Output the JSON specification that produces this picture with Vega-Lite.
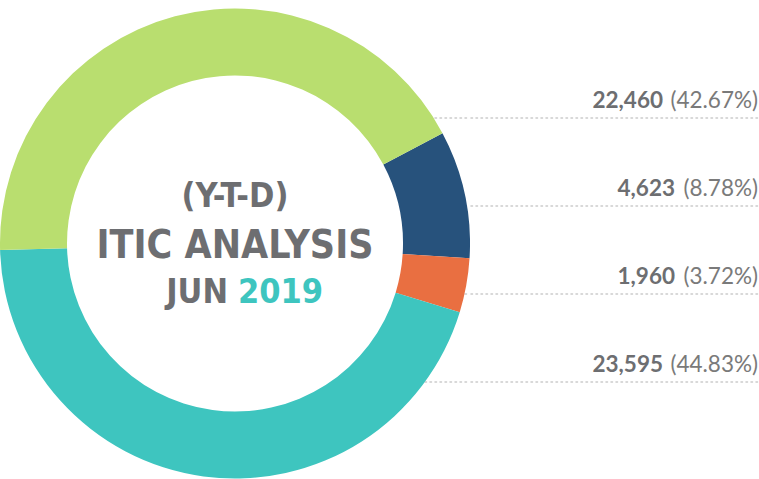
{
  "$schema": "https://vega.github.io/schema/vega-lite/v6.json",
  "padding": 0,
  "background": "white",
  "spacing": 0,
  "config": {"view": {"stroke": null}},
  "data": {"values": [
    {"segment": "Segment 1", "value": 4623, "valueLabel": "4,623", "pctLabel": "(8.78%)", "wide": false},
    {"segment": "Segment 2", "value": 1960, "valueLabel": "1,960", "pctLabel": "(3.72%)", "wide": false},
    {"segment": "Segment 3", "value": 23595, "valueLabel": "23,595", "pctLabel": "(44.83%)", "wide": true},
    {"segment": "Segment 4", "value": 22460, "valueLabel": "22,460", "pctLabel": "(42.67%)", "wide": true}
  ]},
  "resolve": {"scale": {"y": "shared"}},
  "hconcat": [
    {
      "width": 470,
      "height": 479,
      "layer": [
        {
          "mark": {"type": "rule", "stroke": "#cbcbcb", "strokeWidth": 1.5, "strokeDash": [1.5, 3.5], "strokeCap": "round", "clip": true},
          "encoding": {
            "y": {"field": "segment", "type": "nominal", "scale": {"type": "point", "padding": 0, "domain": ["Segment 4", "Segment 1", "Segment 2", "Segment 3"], "range": [118, 382]}, "axis": null},
            "x": {"value": 0},
            "x2": {"value": "width"}
          }
        },
        {
          "data": {"values": [{"part": "mask"}]},
          "mark": {"type": "arc", "radius": 290, "radius2": 233, "theta": 3.1416, "theta2": 6.2832, "fill": "white", "yOffset": 4, "clip": true},
          "encoding": {}
        },
        {
          "data": {"values": [{"part": "hole"}]},
          "mark": {"type": "arc", "radius": 170, "radius2": 0, "theta": 0, "theta2": 6.2832, "fill": "white", "yOffset": 4},
          "encoding": {}
        },
        {
          "mark": {"type": "arc", "radius": 235, "radius2": 168, "yOffset": 4, "clip": true},
          "encoding": {
            "theta": {"field": "value", "type": "quantitative", "stack": true, "scale": {"range": [1.082, 7.3652]}},
            "color": {"field": "segment", "type": "nominal", "sort": ["Segment 1", "Segment 2", "Segment 3", "Segment 4"], "scale": {"domain": ["Segment 1", "Segment 2", "Segment 3", "Segment 4"], "range": ["#27527c", "#e96f41", "#3ec5bf", "#b9de6f"]}, "legend": null},
            "order": {"field": "segment", "sort": "ascending"}
          }
        },
        {
          "data": {"values": [{"line": "(Y-T-D)"}]},
          "mark": {"type": "text", "font": "DejaVu Sans Condensed", "fontWeight": "bold", "fontSize": 34, "fill": "#6d6e71", "align": "center", "baseline": "alphabetic", "dy": -33},
          "encoding": {"text": {"field": "line"}}
        },
        {
          "data": {"values": [{"line": "ITIC ANALYSIS"}]},
          "mark": {"type": "text", "font": "DejaVu Sans Condensed", "fontWeight": "bold", "fontSize": 39, "fill": "#6d6e71", "align": "center", "baseline": "alphabetic", "dy": 18},
          "encoding": {"text": {"field": "line"}}
        },
        {
          "data": {"values": [{"line": "JUN"}]},
          "mark": {"type": "text", "font": "DejaVu Sans Condensed", "fontWeight": "bold", "fontSize": 34, "fill": "#6d6e71", "align": "right", "baseline": "alphabetic", "dy": 63, "dx": -7},
          "encoding": {"text": {"field": "line"}}
        },
        {
          "data": {"values": [{"line": "2019"}]},
          "mark": {"type": "text", "font": "DejaVu Sans Condensed", "fontWeight": "bold", "fontSize": 34, "fill": "#3ec5bf", "align": "left", "baseline": "alphabetic", "dy": 63, "dx": 3},
          "encoding": {"text": {"field": "line"}}
        }
      ]
    },
    {
      "width": 289,
      "height": 479,
      "layer": [
        {
          "mark": {"type": "rule", "stroke": "#cbcbcb", "strokeWidth": 1.5, "strokeDash": [1.5, 3.5], "strokeCap": "round"},
          "encoding": {
            "y": {"field": "segment", "type": "nominal", "axis": null},
            "x": {"value": 0},
            "x2": {"value": "width"}
          }
        },
        {
          "mark": {"type": "text", "font": "Lato", "fontSize": 22.5, "fill": "#7a7a7a", "align": "right", "baseline": "alphabetic", "dy": -10, "dx": -2},
          "encoding": {
            "y": {"field": "segment", "type": "nominal", "axis": null},
            "x": {"value": "width"},
            "text": {"field": "pctLabel"}
          }
        },
        {
          "transform": [{"filter": "datum.wide"}],
          "mark": {"type": "text", "font": "Lato", "fontWeight": "bold", "fontSize": 22.5, "fill": "#6d6e71", "align": "right", "baseline": "alphabetic", "dy": -10, "dx": -97},
          "encoding": {
            "y": {"field": "segment", "type": "nominal", "axis": null},
            "x": {"value": "width"},
            "text": {"field": "valueLabel"}
          }
        },
        {
          "transform": [{"filter": "!datum.wide"}],
          "mark": {"type": "text", "font": "Lato", "fontWeight": "bold", "fontSize": 22.5, "fill": "#6d6e71", "align": "right", "baseline": "alphabetic", "dy": -10, "dx": -85},
          "encoding": {
            "y": {"field": "segment", "type": "nominal", "axis": null},
            "x": {"value": "width"},
            "text": {"field": "valueLabel"}
          }
        }
      ]
    }
  ]
}
